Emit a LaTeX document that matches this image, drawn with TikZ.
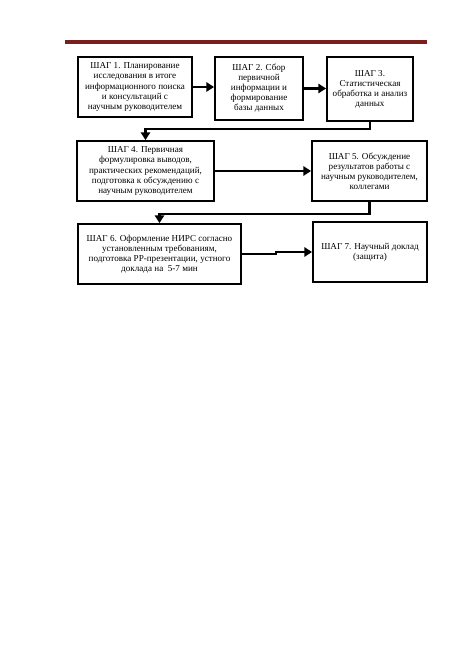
\documentclass[tikz,border=0pt]{standalone}
\usepackage{fontspec}
\setmainfont{Liberation Serif}
\definecolor{rulered}{RGB}{122, 30, 30}
\usetikzlibrary{arrows.meta}

\begin{document}
\begin{tikzpicture}[
  x=1.2963pt, y=-1.2963pt,
  stepbox/.style={draw, line width=2.4pt, align=center, inner sep=2pt, minimum height=77.8pt, font=\fontsize{11.8}{13}\selectfont},
  link/.style={line width=3.6pt, -{Triangle[length=10pt, width=12pt]}}
]
  \fill[white] (0,0) rectangle (459,650);
  \useasboundingbox (0,0) rectangle (459,650);
  \draw[line width=4.5pt, rulered] (65,42) -- (427,42);

  \node[stepbox, minimum width=147.8pt] (s1) at (135, 87) {
    ШАГ 1. Планирование\\
    исследования в итоге\\
    информационного поиска\\
    и консультаций с\\
    научным руководителем
  };
  \node[stepbox, minimum width=114.1pt, minimum height=81.7pt] (s2) at (259, 88.5) {
    ШАГ 2. Сбор\\
    первичной\\
    информации и\\
    формирование\\
    базы данных
  };
  \node[stepbox, minimum width=111.5pt, minimum height=83pt] (s3) at (370, 89) {
    ШАГ 3.\\
    Статистическая\\
    обработка и анализ\\
    данных
  };
  \node[stepbox, minimum width=177.6pt] (s4) at (145.5, 171) {
    ШАГ 4. Первичная\\
    формулировка выводов,\\
    практических рекомендаций,\\
    подготовка к обсуждению с\\
    научным руководителем
  };
  \node[stepbox, minimum width=149.1pt] (s5) at (369.5, 171) {
    ШАГ 5. Обсуждение\\
    результатов работы с\\
    научным руководителем,\\
    коллегами
  };
  \node[stepbox, minimum width=211.3pt] (s6) at (159.5, 254) {
    ШАГ 6. Оформление НИРС согласно\\
    установленным требованиям,\\
    подготовка PP-презентации, устного\\
    доклада на~ 5-7 мин
  };
  \node[stepbox, minimum width=147.8pt] (s7) at (370, 252) {
    ШАГ 7. Научный доклад\\
    (защита)
  };

  \draw[link] (s1.east) -- (s2.west |- s1.east);
  \draw[link] (s2.east) -- (s3.west |- s2.east);
  \draw[link] (s3.south) -- ++(0,7) -| (s4.north);
  \draw[link] (s4.east) -- (s5.west);
  \draw[link] (s5.south) -- ++(0,12) -| (s6.north);
  \draw[link] (s6.east) -- ++(34,0) |- (s7.west);
\end{tikzpicture}
\end{document}
